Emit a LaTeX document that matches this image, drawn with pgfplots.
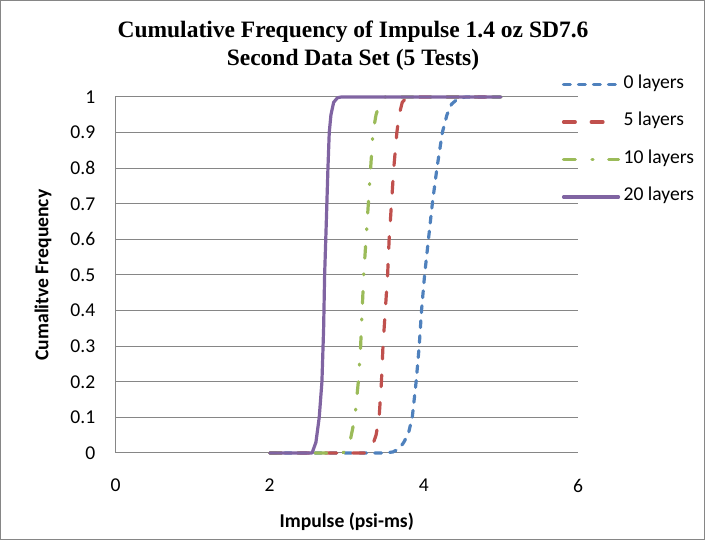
\documentclass[border=0pt]{standalone}
\usepackage{fontspec}
\setmainfont{Carlito}
\newfontfamily\titlefont{Liberation Serif}
\usepackage{pgfplots}
\pgfplotsset{compat=1.18}
\definecolor{s0}{HTML}{4F81BD}
\definecolor{s5}{HTML}{C0504D}
\definecolor{s10}{HTML}{9BBB59}
\definecolor{s20}{HTML}{8064A2}
\definecolor{framegray}{HTML}{868686}
\begin{document}
\begin{tikzpicture}
\useasboundingbox (0pt,0pt) rectangle (705pt,540pt);
\draw[framegray, line width=1pt] (0.5pt,0.5pt) rectangle (704.5pt,539.5pt);
\node[align=center, font=\titlefont\bfseries\fontsize{23.5}{28}\selectfont] at (353pt,494pt)
  {Cumulative Frequency of Impulse 1.4 oz SD7.6\\Second Data Set (5 Tests)};
\begin{axis}[
  at={(115.5pt,87pt)}, anchor=south west,
  scale only axis, width=462.5pt, height=356pt,
  xmin=0, xmax=6, ymin=0, ymax=1,
  clip=false,
  xtick={0,2,4,6},
  ytick={0,0.1,0.2,0.3,0.4,0.5,0.6,0.7,0.8,0.9,1},
  axis lines*=left,
  axis line style={framegray, line width=1pt},
  ymajorgrids, grid style={framegray, line width=1pt},
  major tick length=0pt,
  tick label style={font=\fontsize{19.6}{23.5}\selectfont, black},
  /pgf/number format/assume math mode=true,
  /pgf/number format/fixed, /pgf/number format/precision=1,
  yticklabel style={anchor=east, inner sep=0pt, xshift=-20pt},
  xticklabel style={anchor=north, inner sep=0pt, yshift=-26pt},
  xlabel={Impulse (psi-ms)},
  ylabel={Cumalitve Frequency},
  label style={font=\bfseries\fontsize{19.6}{23.5}\selectfont},
  xlabel style={at={(axis description cs:0.5,-0.194)}, anchor=center, inner sep=0pt},
  ylabel style={at={(axis description cs:-0.1568,0.5)}, anchor=center, inner sep=0pt},
  legend cell align=left,
  legend style={at={(axis description cs:0.9648,1.061)}, anchor=north west,
    draw=none, fill=none, inner sep=0pt, column sep=3.5pt, row sep=19.5pt,
    font=\fontsize{19.6}{23.5}\selectfont,
    nodes={inner sep=0pt, text height=13pt, text depth=5pt}},
  legend image code/.code={\draw[#1] (0pt,0pt) -- (55pt,0pt);},
  every axis plot/.append style={line width=3.2pt, line cap=round, line join=round},
]
% 0 layers
\addplot[s0, dash pattern=on 6.8pt off 8.2pt] coordinates {
  (2,0) (3.5,0) (3.6,0.003) (3.68,0.012) (3.74,0.03) (3.80,0.055) (3.85,0.1)
  (3.90,0.2) (3.94,0.3) (3.97,0.4) (4.01,0.5) (4.06,0.6) (4.11,0.7) (4.17,0.8)
  (4.24,0.9) (4.30,0.95) (4.36,0.98) (4.45,0.997) (4.55,1) (5.0,1)};
\addlegendentry{0 layers}
% 5 layers
\addplot[s5, dash pattern=on 11.8pt off 15.9pt] coordinates {
  (2,0) (3.25,0) (3.3,0.008) (3.34,0.025) (3.38,0.05) (3.42,0.1) (3.45,0.2)
  (3.47,0.3) (3.50,0.4) (3.53,0.5) (3.55,0.6) (3.58,0.7) (3.61,0.8) (3.65,0.9)
  (3.68,0.95) (3.72,0.985) (3.78,1) (5.0,1)};
\addlegendentry{5 layers}
% 10 layers
\addplot[s10, dash pattern=on 11.8pt off 16.7pt on 1pt off 15.7pt] coordinates {
  (2,0) (2.95,0) (3.0,0.01) (3.05,0.04) (3.106,0.1) (3.15,0.2) (3.18,0.3)
  (3.20,0.4) (3.22,0.5) (3.25,0.6) (3.28,0.7) (3.31,0.8) (3.34,0.9) (3.38,0.95)
  (3.43,0.985) (3.5,1) (5.0,1)};
\addlegendentry{10 layers}
% 20 layers
\addplot[s20] coordinates {
  (2,0) (2.55,0) (2.6,0.03) (2.643,0.1) (2.678,0.2) (2.70,0.35) (2.713,0.5)
  (2.735,0.65) (2.756,0.8) (2.773,0.9) (2.795,0.95) (2.83,0.985) (2.88,0.998)
  (2.93,1) (5.0,1)};
\addlegendentry{20 layers}
\end{axis}
\end{tikzpicture}
\end{document}
